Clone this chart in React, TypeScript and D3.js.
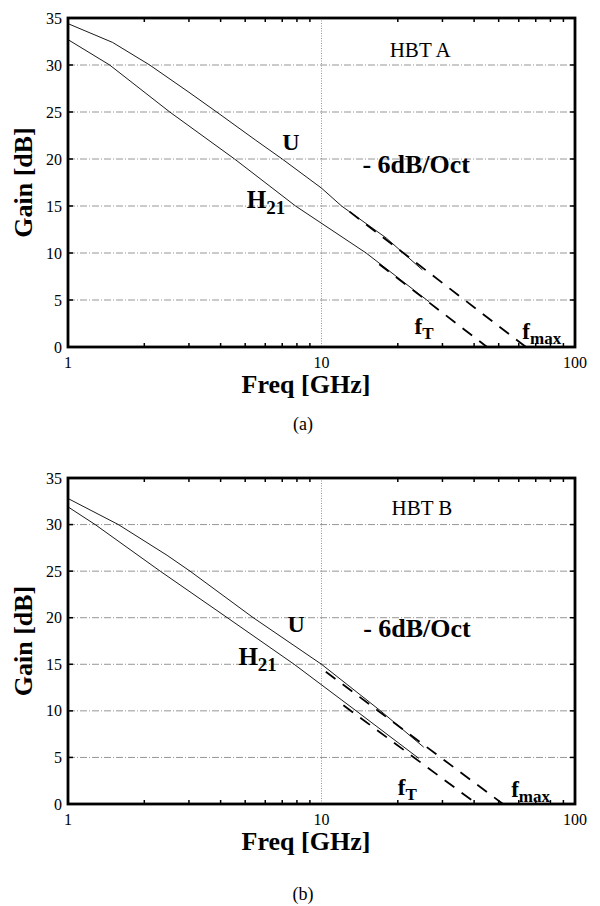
import * as d3 from 'd3';

// axes
const gainTicks = [0, 5, 10, 15, 20, 25, 30, 35];
const gridGains = [5, 10, 15, 20, 25, 30];
const freqTicks = [1, 10, 100];
const minorFreqs = [2, 3, 4, 5, 6, 7, 8, 9, 20, 30, 40, 50, 60, 70, 80, 90];

// HBT A - measured U and H21 (freq GHz, gain dB)
const uFreqA = [1, 1.5, 2.1, 3.0, 3.86, 5.5, 7.0, 10, 12, 18, 25];
const uGainA = [34.4, 32.4, 30.0, 27.1, 25.0, 22.0, 20.0, 16.9, 15.0, 11.6, 8.2];
const hFreqA = [1, 1.46, 2.52, 4.54, 7.9, 15.0, 26.6];
const hGainA = [32.7, 30.0, 25.0, 20.0, 15.0, 10.0, 4.8];
// -6dB/oct extrapolations
const uFitFreqA = [12.9, 64];
const uFitGainA = [14.4, 0];
const hFitFreqA = [16.9, 45];
const hFitGainA = [8.8, 0];

// HBT B
const uFreqB = [1, 1.58, 2.46, 3.03, 5.38, 10, 17.1, 25.3];
const uGainB = [32.8, 30.0, 26.7, 25.0, 20.0, 15.0, 10.0, 6.1];
const hFreqB = [1, 1.28, 2.31, 4.25, 7.8, 13.7, 24.2];
const hGainB = [31.9, 30.0, 25.0, 20.0, 15.0, 10.0, 4.9];
const uFitFreqB = [10.4, 52];
const uFitGainB = [14.2, 0];
const hFitFreqB = [12.2, 41];
const hFitGainB = [10.6, 0];

const zip = (a: number[], b: number[]): [number, number][] => a.map((v, i) => [v, b[i]]);

const serif = '"Liberation Serif", "DejaVu Serif", serif';

type PanelProps = {
  top: number;
  bottom: number;
  name: string;
  caption: string;
  captionY: number;
  u: [number, number][];
  h: [number, number][];
  uFit: [number, number][];
  hFit: [number, number][];
  pos: { [k: string]: [number, number] };
};

function Panel({ top, bottom, name, caption, captionY, u, h, uFit, hFit, pos }: PanelProps) {
  const left = 68;
  const right = 575;
  const x = d3.scaleLog().domain([1, 100]).range([left, right]);
  const y = d3.scaleLinear().domain([0, 35]).range([bottom, top]);
  const line = d3
    .line<[number, number]>()
    .x((d) => x(d[0]))
    .y((d) => y(d[1]));
  const P = (k: string) => ({ x: x(pos[k][0]), y: y(pos[k][1]) });

  return (
    <g fontFamily={serif}>
      {/* grid */}
      {gridGains.map((g) => (
        <line key={'g' + g} x1={left} x2={right} y1={y(g)} y2={y(g)} stroke="#8a8a8a" strokeWidth={0.9} strokeDasharray="7,2,1,2" />
      ))}
      <line x1={x(10)} x2={x(10)} y1={top} y2={bottom} stroke="#8a8a8a" strokeWidth={0.9} strokeDasharray="1,1.5" />

      {/* ticks */}
      {minorFreqs.map((f) => (
        <g key={'t' + f}>
          <line x1={x(f)} x2={x(f)} y1={bottom} y2={bottom - 4} stroke="#000" strokeWidth={1.5} />
          <line x1={x(f)} x2={x(f)} y1={top} y2={top + 4} stroke="#000" strokeWidth={1.5} />
        </g>
      ))}
      {gainTicks.map((g) => (
        <g key={'yt' + g}>
          <line x1={left} x2={left + 5} y1={y(g)} y2={y(g)} stroke="#000" strokeWidth={1.5} />
          <line x1={right} x2={right - 5} y1={y(g)} y2={y(g)} stroke="#000" strokeWidth={1.5} />
        </g>
      ))}

      {/* curves */}
      <path d={line(u) ?? ''} fill="none" stroke="#000" strokeWidth={0.9} />
      <path d={line(h) ?? ''} fill="none" stroke="#000" strokeWidth={0.9} />
      <path d={line(uFit) ?? ''} fill="none" stroke="#000" strokeWidth={1.8} strokeDasharray="12,9" />
      <path d={line(hFit) ?? ''} fill="none" stroke="#000" strokeWidth={1.8} strokeDasharray="12,9" />

      {/* frame */}
      <rect x={left} y={top} width={right - left} height={bottom - top} fill="none" stroke="#000" strokeWidth={2.8} />

      {/* tick labels */}
      {gainTicks.map((g) => (
        <text key={'yl' + g} x={left - 6} y={y(g)} dy="0.35em" textAnchor="end" fontSize={16}>
          {g}
        </text>
      ))}
      {freqTicks.map((f) => (
        <text key={'xl' + f} x={x(f)} y={bottom + 21} textAnchor="middle" fontSize={16}>
          {f}
        </text>
      ))}

      {/* axis titles */}
      <text
        transform={`translate(23,${(top + bottom) / 2}) rotate(-90)`}
        textAnchor="middle"
        dominantBaseline="central"
        fontSize={26}
        fontWeight="bold"
      >
        Gain [dB]
      </text>
      <text x={306} y={bottom + 46} textAnchor="middle" fontSize={26} fontWeight="bold">
        Freq [GHz]
      </text>
      <text x={303} y={captionY} textAnchor="middle" fontSize={18}>
        {caption}
      </text>

      {/* annotations */}
      <text x={P('name').x} y={P('name').y} textAnchor="middle" fontSize={21}>
        {name}
      </text>
      <text x={P('u').x} y={P('u').y} fontSize={24} fontWeight="bold">
        U
      </text>
      <text x={P('slope').x} y={P('slope').y} fontSize={26} fontWeight="bold">
        - 6dB/Oct
      </text>
      <text x={P('h').x} y={P('h').y} fontSize={25} fontWeight="bold">
        H<tspan dy={6} fontSize={19}>21</tspan>
      </text>
      <text x={P('ft').x} y={P('ft').y} fontSize={23} fontWeight="bold">
        f<tspan dy={5} fontSize={17}>T</tspan>
      </text>
      <text x={P('fmax').x} y={P('fmax').y} fontSize={23} fontWeight="bold">
        f<tspan dy={5} fontSize={17}>max</tspan>
      </text>
    </g>
  );
}

export default function App() {
  return (
    <svg
      width={600}
      height={906}
      viewBox="0 0 600 906"
      style={{ position: 'absolute', left: 0, top: 0, background: '#fff' }}
    >
      <Panel
        top={18}
        bottom={347}
        name="HBT A"
        caption="(a)"
        captionY={430}
        u={zip(uFreqA, uGainA)}
        h={zip(hFreqA, hGainA)}
        uFit={zip(uFitFreqA, uFitGainA)}
        hFit={zip(hFitFreqA, hFitGainA)}
        pos={{
          name: [24.5, 30.9],
          u: [7.0, 21.0],
          slope: [14.5, 18.5],
          h: [5.07, 14.8],
          ft: [23.3, 1.4],
          fmax: [62, 0.8],
        }}
      />
      <Panel
        top={478}
        bottom={804}
        name="HBT B"
        caption="(b)"
        captionY={900}
        u={zip(uFreqB, uGainB)}
        h={zip(hFreqB, hGainB)}
        uFit={zip(uFitFreqB, uFitGainB)}
        hFit={zip(hFitFreqB, hFitGainB)}
        pos={{
          name: [24.9, 31.0],
          u: [7.34, 18.5],
          slope: [14.6, 17.9],
          h: [4.7, 14.9],
          ft: [20, 1.0],
          fmax: [56, 0.8],
        }}
      />
    </svg>
  );
}
